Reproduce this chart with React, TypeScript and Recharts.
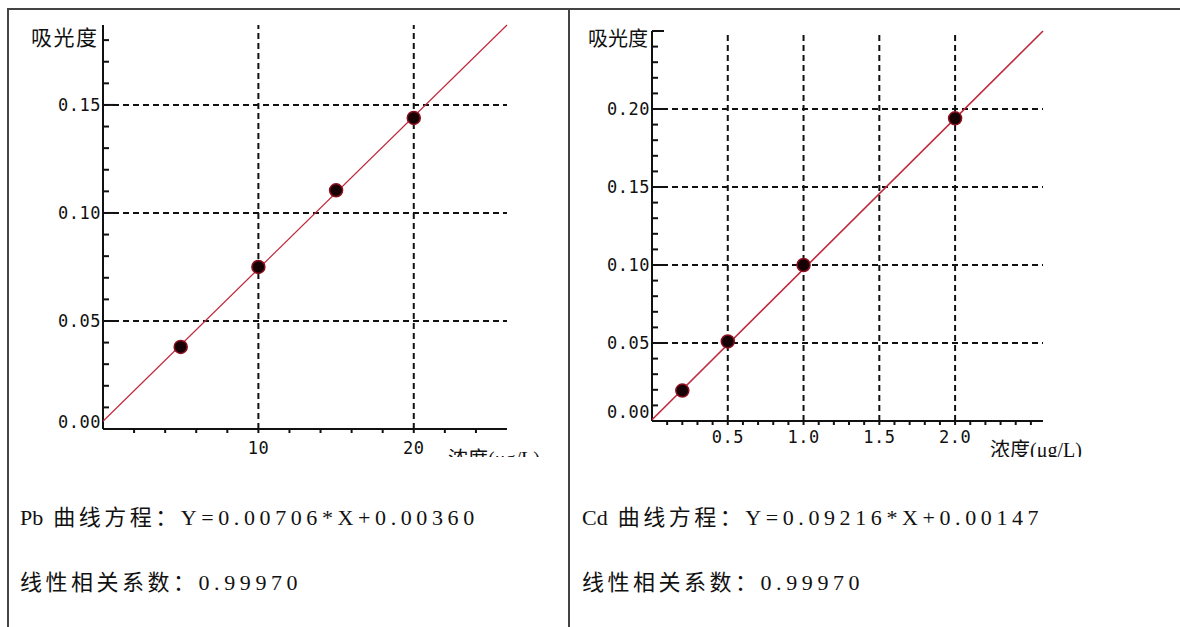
import React from 'react';
import { ScatterChart, Scatter, XAxis, YAxis, ReferenceLine } from 'recharts';

// Pb calibration (left panel)
const pbPoints = [
  { x: 5, y: 0.038 },
  { x: 10, y: 0.075 },
  { x: 15, y: 0.1105 },
  { x: 20, y: 0.144 },
];
const pbFit = [
  { x: 0, y: 0.0036 },
  { x: 26, y: 0.187 },
];
const pbXTicks = [2, 4, 6, 8, 10, 12, 14, 16, 18, 20, 22, 24];
const pbXLabels = [10, 20];
const pbYTicks = [0, 0.01, 0.02, 0.03, 0.04, 0.05, 0.06, 0.07, 0.08, 0.09, 0.1, 0.11, 0.12, 0.13, 0.14, 0.15, 0.16, 0.17, 0.18];
const pbYLabels = [0, 0.05, 0.1, 0.15];
const pbGridX = [10, 20];
const pbGridY = [0.05, 0.1, 0.15];

// Cd calibration (right panel)
const cdPoints = [
  { x: 0.2, y: 0.0195 },
  { x: 0.5, y: 0.051 },
  { x: 1.0, y: 0.1 },
  { x: 2.0, y: 0.194 },
];
const cdFit = [
  { x: 0, y: 0.0008 },
  { x: 2.58, y: 0.25 },
];
const cdXTicks = [0.1, 0.2, 0.3, 0.4, 0.5, 0.6, 0.7, 0.8, 0.9, 1.0, 1.1, 1.2, 1.3, 1.4, 1.5, 1.6, 1.7, 1.8, 1.9, 2.0, 2.1, 2.2, 2.3, 2.4, 2.5];
const cdXLabels = [0.5, 1.0, 1.5, 2.0];
const cdYTicks = [0, 0.01, 0.02, 0.03, 0.04, 0.05, 0.06, 0.07, 0.08, 0.09, 0.1, 0.11, 0.12, 0.13, 0.14, 0.15, 0.16, 0.17, 0.18, 0.19, 0.2, 0.21, 0.22, 0.23, 0.24, 0.25];
const cdYLabels = [0, 0.05, 0.1, 0.15, 0.2];
const cdYMajor = [0, 0.05, 0.1, 0.15, 0.2, 0.25];
const cdGridX = [0.5, 1.0, 1.5, 2.0];
const cdGridY = [0.05, 0.1, 0.15, 0.2];

const pbEquation = ['Pb', '曲线方程：', 'Y=0.00706*X+0.00360'];
const cdEquation = ['Cd', '曲线方程：', 'Y=0.09216*X+0.00147'];
const correlation = ['', '线性相关系数：', '0.99970'];

const INK = '#111';
const RED = '#c0283c';
const tickFont = "'DejaVu Sans Mono', monospace";
const docFont = "'Liberation Serif', 'Noto Sans CJK SC', serif";

const near = (list: number[], v: number) => list.some((m) => Math.abs(m - v) < 1e-6);

const YTick = (props: any) => {
  const { x, y, payload, majors, labels, zeroLift } = props;
  const v = payload.value;
  const major = near(majors, v);
  return (
    <g>
      <line x1={x} y1={y} x2={x + (major ? 12 : 6)} y2={y} stroke={INK} strokeWidth={2} />
      {near(labels, v) && (
        <text
          x={x - 2}
          y={v === 0 ? y - zeroLift : y}
          dy="0.36em"
          textAnchor="end"
          fontFamily={tickFont}
          fontSize={17}
          letterSpacing={0.5}
          fill={INK}
        >
          {v.toFixed(2)}
        </text>
      )}
    </g>
  );
};

const XTick = (props: any) => {
  const { x, y, payload, labels, digits, gap } = props;
  const v = payload.value;
  return (
    <g>
      <line x1={x} y1={y} x2={x} y2={y + 4} stroke={INK} strokeWidth={2} />
      {near(labels, v) && (
        <text
          x={x}
          y={y + gap}
          dy="0.36em"
          textAnchor="middle"
          fontFamily={tickFont}
          fontSize={17}
          letterSpacing={0.5}
          fill={INK}
        >
          {v.toFixed(digits)}
        </text>
      )}
    </g>
  );
};

const Dot = (p: any) => (
  <circle cx={p.cx} cy={p.cy} r={6.5} fill="#160204" stroke="#8a1020" strokeWidth={1.5} />
);

const NoShape = () => <g />;

const titleStyle: React.CSSProperties = {
  position: 'absolute',
  fontFamily: "'Noto Sans CJK SC', sans-serif",
  fontSize: 20,
  lineHeight: '20px',
  color: '#111',
  whiteSpace: 'nowrap',
};

const DocLine = ({ parts, left, top }: { parts: string[]; left: number; top: number }) => (
  <div style={{ position: 'absolute', left, top, fontFamily: docFont, fontSize: 22, lineHeight: '22px', color: '#111', whiteSpace: 'nowrap' }}>
    {parts[0] && <span style={{ marginRight: 10 }}>{parts[0]}</span>}
    <span style={{ letterSpacing: 3.5 }}>{parts[1]}</span>
    <span style={{ letterSpacing: 4.6 }}>{parts[2]}</span>
  </div>
);

const App: React.FC = () => {
  return (
    <div style={{ position: 'absolute', left: 0, top: 0, width: 1180, height: 627, background: '#fff', overflow: 'hidden' }}>
      {/* table borders */}
      <div style={{ position: 'absolute', left: 7, top: 8, width: 1173, height: 2, background: '#444' }} />
      <div style={{ position: 'absolute', left: 7, top: 8, width: 2, height: 619, background: '#444' }} />
      <div style={{ position: 'absolute', left: 568, top: 8, width: 2, height: 619, background: '#444' }} />

      {/* Pb chart */}
      <div style={{ position: 'absolute', left: 0, top: 0, width: 570, height: 457, overflow: 'hidden' }}>
        <ScatterChart width={570} height={457} margin={{ top: 25, right: 63, bottom: 27, left: 102 }}>
          <XAxis
            type="number"
            dataKey="x"
            domain={[0, 26]}
            ticks={pbXTicks}
            interval={0}
            height={1}
            tickSize={0}
            tickMargin={0}
            tickLine={false}
            axisLine={{ stroke: INK, strokeWidth: 2 }}
            tick={(p: any) => <XTick {...p} labels={pbXLabels} digits={0} gap={19} />}
          />
          <YAxis
            type="number"
            dataKey="y"
            domain={[0, 0.187]}
            ticks={pbYTicks}
            interval={0}
            width={1}
            tickSize={0}
            tickMargin={0}
            tickLine={false}
            axisLine={{ stroke: INK, strokeWidth: 2 }}
            tick={(p: any) => <YTick {...p} majors={pbYLabels} labels={pbYLabels} zeroLift={7} />}
          />
          {pbGridX.map((v) => (
            <ReferenceLine key={'px' + v} x={v} stroke={INK} strokeWidth={2} strokeDasharray="6 4" />
          ))}
          {pbGridY.map((v) => (
            <ReferenceLine key={'py' + v} y={v} stroke={INK} strokeWidth={2} strokeDasharray="6 4" />
          ))}
          <Scatter data={pbFit} line={{ stroke: RED, strokeWidth: 1.2 }} shape={NoShape} isAnimationActive={false} />
          <Scatter data={pbPoints} shape={Dot} isAnimationActive={false} />
        </ScatterChart>
        <div style={{ ...titleStyle, left: 31, top: 26, fontSize: 21, letterSpacing: 1.5 }}>吸光度</div>
        <div style={{ ...titleStyle, fontFamily: docFont, left: 448, top: 449 }}>浓度(μg/L)</div>
      </div>

      {/* Cd chart */}
      <div style={{ position: 'absolute', left: 570, top: 0, width: 610, height: 457, overflow: 'hidden' }}>
        <ScatterChart width={610} height={457} margin={{ top: 31, right: 137, bottom: 35, left: 81 }}>
          <XAxis
            type="number"
            dataKey="x"
            domain={[0, 2.58]}
            ticks={cdXTicks}
            interval={0}
            height={1}
            tickSize={0}
            tickMargin={0}
            tickLine={false}
            axisLine={{ stroke: INK, strokeWidth: 2 }}
            tick={(p: any) => <XTick {...p} labels={cdXLabels} digits={1} gap={16} />}
          />
          <YAxis
            type="number"
            dataKey="y"
            domain={[0, 0.25]}
            ticks={cdYTicks}
            interval={0}
            width={1}
            tickSize={0}
            tickMargin={0}
            tickLine={false}
            axisLine={{ stroke: INK, strokeWidth: 2 }}
            tick={(p: any) => <YTick {...p} majors={cdYMajor} labels={cdYLabels} zeroLift={9} />}
          />
          {cdGridX.map((v) => (
            <ReferenceLine key={'cx' + v} x={v} stroke={INK} strokeWidth={2} strokeDasharray="6 4" />
          ))}
          {cdGridY.map((v) => (
            <ReferenceLine key={'cy' + v} y={v} stroke={INK} strokeWidth={2} strokeDasharray="6 4" />
          ))}
          <Scatter data={cdFit} line={{ stroke: RED, strokeWidth: 1.6 }} shape={NoShape} isAnimationActive={false} />
          <Scatter data={cdPoints} shape={Dot} isAnimationActive={false} />
        </ScatterChart>
        <div style={{ ...titleStyle, left: 18, top: 28 }}>吸光度</div>
        <div style={{ ...titleStyle, fontFamily: docFont, left: 420, top: 440 }}>浓度(μg/L)</div>
      </div>

      {/* equations */}
      <DocLine parts={pbEquation} left={20} top={507} />
      <DocLine parts={correlation} left={20} top={572} />
      <DocLine parts={cdEquation} left={582} top={507} />
      <DocLine parts={correlation} left={582} top={572} />
    </div>
  );
};

export default App;
